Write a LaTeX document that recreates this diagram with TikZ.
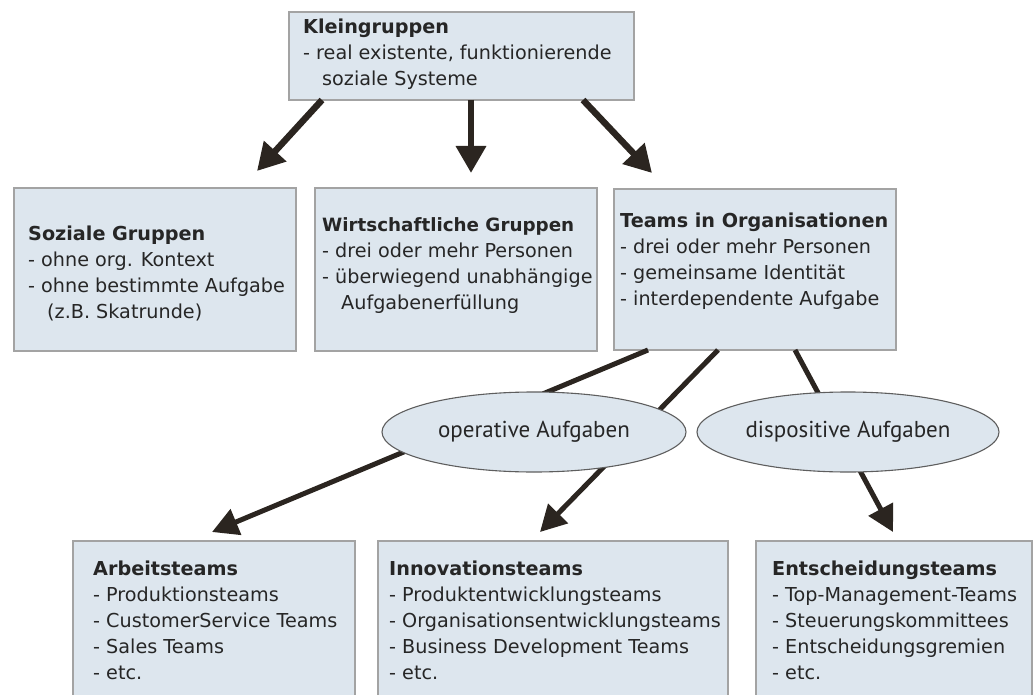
\documentclass[tikz,border=0pt]{standalone}
\usepackage{fontspec}
\setmainfont{DejaVu Sans}
\newfontfamily\ellfont{PT Sans}
\usetikzlibrary{arrows.meta,shapes.geometric}
\definecolor{boxfill}{HTML}{DDE6EE}
\definecolor{boxline}{HTML}{A3A3A3}
\definecolor{arrowcol}{HTML}{2B2520}
\definecolor{txtcol}{HTML}{262626}
\definecolor{ellline}{HTML}{5E5E5E}

\begin{document}
\begin{tikzpicture}[x=1pt,y=-1pt,
  box/.style={draw=boxline, line width=1.2pt, fill=boxfill, anchor=north west,
              inner sep=0pt, outer sep=0pt},
  txt/.style={anchor=north west, inner sep=0pt, align=left, text=txtcol,
              font=\fontsize{19.2}{26}\selectfont},
  task/.style={ellipse, draw=ellline, line width=1.1pt, fill=boxfill, inner sep=0pt,
               text=txtcol, minimum height=80pt, font=\ellfont\fontsize{23}{26}\selectfont},
  toparrow/.style={draw=arrowcol, line width=6.5pt,
                   -{Triangle[length=27pt,width=29pt]}},
  lowarrow/.style={draw=arrowcol, line width=5pt,
                   -{Triangle[length=26pt,width=27pt]}}
]
\useasboundingbox (0,0) rectangle (1033,695);
\clip (0,0) rectangle (1033,695);

% boxes
\node[box, minimum width=345pt, minimum height=88pt]  (klein) at (289,12)  {};
\node[box, minimum width=282pt, minimum height=163pt] (sozial) at (14,188) {};
\node[box, minimum width=282pt, minimum height=163pt] (wirt) at (315,188)  {};
\node[box, minimum width=282pt, minimum height=161pt] (teams) at (614,189) {};
\node[box, minimum width=282pt, minimum height=170pt] (arbeit) at (73,541) {};
\node[box, minimum width=350pt, minimum height=170pt] (innov) at (378,541) {};
\node[box, minimum width=276pt, minimum height=170pt] (entsch) at (756,541) {};

% box texts
\node[txt] (kleintxt) at (303,19) {\textbf{Kleingruppen}\\- real existente, funktionierende\\\hspace*{19pt}soziale Systeme};
\node[txt] (sozialtxt) at (28,226) {\textbf{Soziale Gruppen}\\- ohne org. Kontext\\- ohne bestimmte Aufgabe\\\hspace*{19pt}(z.B. Skatrunde)};
\node[txt] (wirttxt) at (322,217) {{\fontsize{18.3}{26}\selectfont\textbf{Wirtschaftliche Gruppen}}\\- drei oder mehr Personen\\- überwiegend unabhängige\\\hspace*{19pt}Aufgabenerfüllung};
\node[txt] (teamstxt) at (620,213) {\textbf{Teams in Organisationen}\\- drei oder mehr Personen\\- gemeinsame Identität\\- interdependente Aufgabe};
\node[txt] (arbeittxt) at (93,561) {\textbf{Arbeitsteams}\\- Produktionsteams\\- CustomerService Teams\\- Sales Teams\\- etc.};
\node[txt] (innovtxt) at (389,561) {\textbf{Innovationsteams}\\- Produktentwicklungsteams\\- Organisationsentwicklungsteams\\- Business Development Teams\\- etc.};
\node[txt] (entschtxt) at (772,561) {\textbf{Entscheidungsteams}\\- Top-Management-Teams\\- Steuerungskommittees\\- Entscheidungsgremien\\- etc.};

% arrows from the top box
\draw[toparrow] ([xshift=33pt]klein.south west)  -- ([xshift=243pt,yshift=17pt]sozial.north west);
\draw[toparrow] ([xshift=182pt]klein.south west) -- ([xshift=156pt,yshift=15pt]wirt.north west);
\draw[toparrow] ([xshift=294pt]klein.south west) -- ([xshift=38pt,yshift=16pt]teams.north west);

% arrows from the teams box (they run behind the ellipses)
\draw[lowarrow] ([xshift=34pt]teams.south west)  -- ([xshift=139pt,yshift=9pt]arbeit.north west);
\draw[lowarrow] ([xshift=104pt]teams.south west) -- ([xshift=162pt,yshift=9pt]innov.north west);
\draw[lowarrow] ([xshift=181pt]teams.south west) -- ([xshift=137pt,yshift=9pt]entsch.north west);

% task ellipses
\node[task, minimum width=304pt] (operativ) at (534,432) {operative Aufgaben};
\node[task, minimum width=302pt] (dispositiv) at (848,432) {dispositive Aufgaben};
\end{tikzpicture}
\end{document}
